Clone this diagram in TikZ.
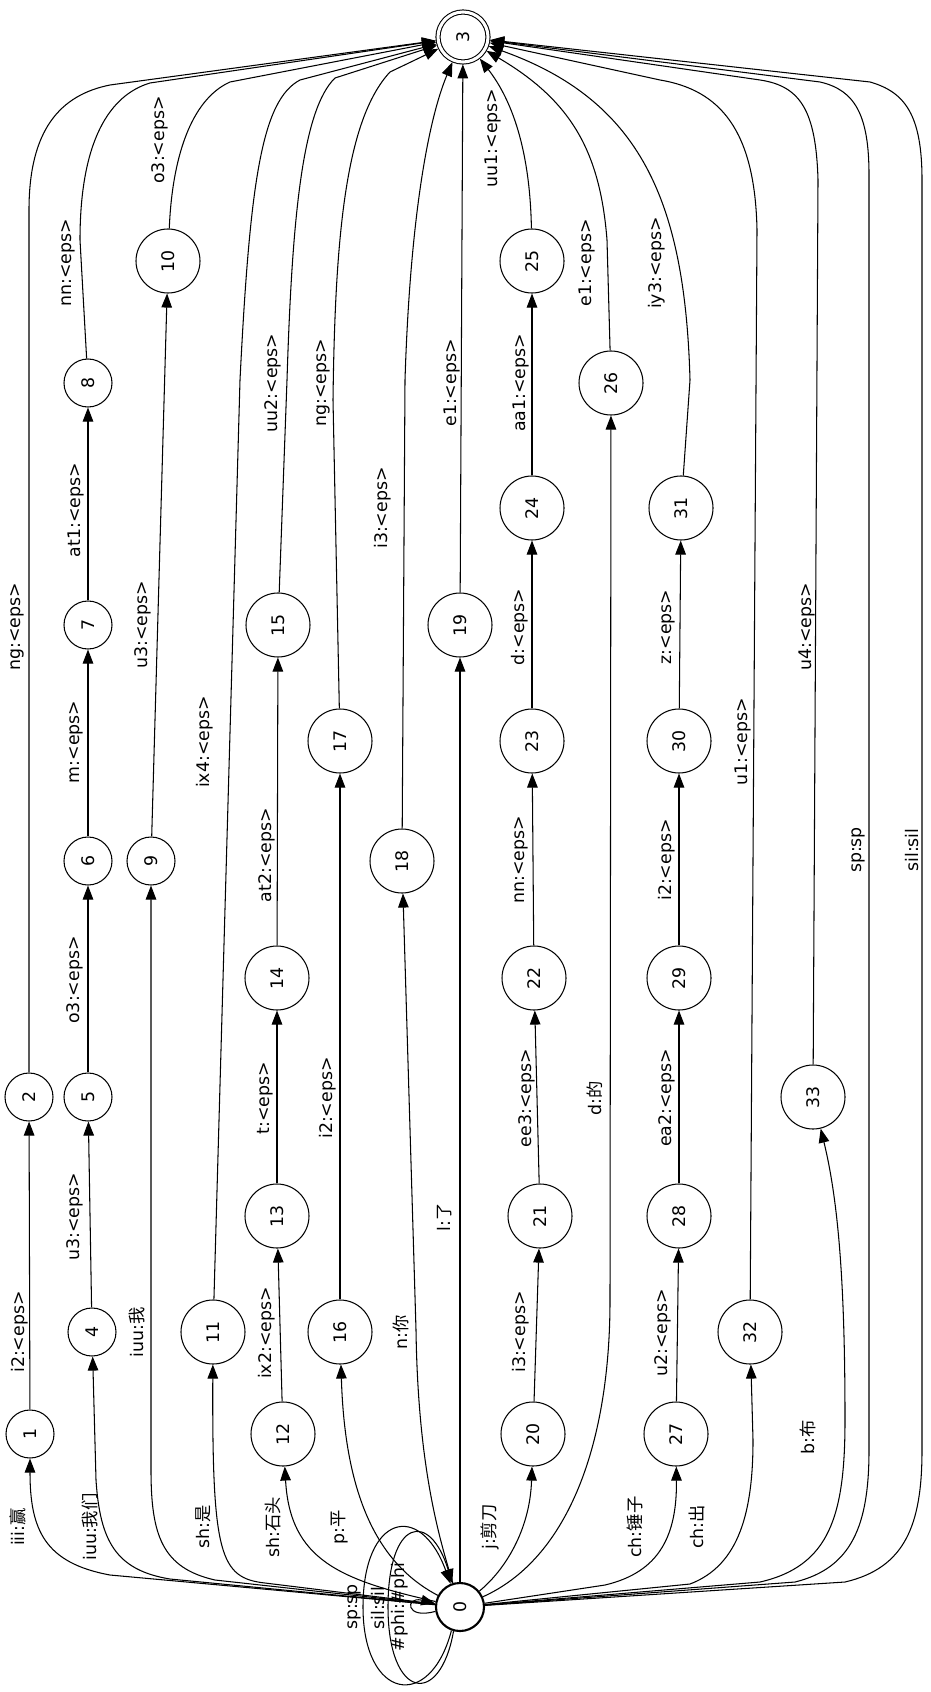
\documentclass[tikz,border=0pt]{standalone}
\usepackage{fontspec}
\setmainfont{DejaVu Sans}
\newfontfamily\cjk{Noto Sans CJK SC}
\usetikzlibrary{arrows.meta}

\newcommand{\up}[1]{\rotatebox{90}{#1}}

\begin{document}
\begin{tikzpicture}[x=0.03cm, y=-0.03cm, >={Triangle[length=12pt,width=9pt]},
    font=\fontsize{14.8}{17}\selectfont, line width=0.9pt,
    state/.style={circle, draw, inner sep=0pt, minimum size=1.44cm},
    wide/.style={circle, draw, inner sep=0pt, minimum size=1.92cm},
    lbl/.style={rotate=90, inner sep=0pt}]
    \useasboundingbox (0,0) rectangle (930,1692);

    % states
    \node[state, line width=1.8pt] (s0) at (460,1607) {\up{0}};
    \node[state, double, double distance=2.6pt, outer sep=2pt, minimum size=1.5cm] (s3) at (463,37) {\up{3}};
    \node[state] (s1) at (30,1434) {\up{1}};
    \node[state] (s2) at (29,1097) {\up{2}};
    \node[state] (s4) at (92,1332) {\up{4}};
    \node[state] (s5) at (88,1097) {\up{5}};
    \node[state] (s6) at (88,861) {\up{6}};
    \node[state] (s7) at (88,625) {\up{7}};
    \node[state] (s8) at (88,383) {\up{8}};
    \node[state] (s9) at (151,861) {\up{9}};
    \node[wide] (s10) at (168,261) {\up{10}};
    \node[wide] (s11) at (213,1332) {\up{11}};
    \node[wide] (s12) at (283,1434) {\up{12}};
    \node[wide] (s13) at (277,1216) {\up{13}};
    \node[wide] (s14) at (277,978) {\up{14}};
    \node[wide] (s15) at (278,625) {\up{15}};
    \node[wide] (s16) at (340,1332) {\up{16}};
    \node[wide] (s17) at (340,741) {\up{17}};
    \node[wide] (s18) at (402,861) {\up{18}};
    \node[wide] (s19) at (460,625) {\up{19}};
    \node[wide] (s20) at (533,1434) {\up{20}};
    \node[wide] (s21) at (540,1216) {\up{21}};
    \node[wide] (s22) at (534,978) {\up{22}};
    \node[wide] (s23) at (532,741) {\up{23}};
    \node[wide] (s24) at (532,508) {\up{24}};
    \node[wide] (s25) at (532,261) {\up{25}};
    \node[wide] (s26) at (611,383) {\up{26}};
    \node[wide] (s27) at (676,1434) {\up{27}};
    \node[wide] (s28) at (679,1216) {\up{28}};
    \node[wide] (s29) at (679,978) {\up{29}};
    \node[wide] (s30) at (679,741) {\up{30}};
    \node[wide] (s31) at (681,508) {\up{31}};
    \node[wide] (s32) at (750,1332) {\up{32}};
    \node[wide] (s33) at (813,1097) {\up{33}};

    % arcs leaving the start state
    \draw[->] (s0) -- (110,1575) .. controls (45,1563) and (30,1530) .. (s1);
    \draw[->] (s0) -- (170,1579) .. controls (115,1570) and (100,1540) .. (96,1480) -- (s4);
    \draw[->] (s0) -- (215,1580) .. controls (162,1568) and (151,1535) .. (151,1470) -- (s9);
    \draw[->] (s0) -- (265,1583) .. controls (220,1578) and (212,1555) .. (s11);
    \draw[->] (s0) .. controls (340,1580) and (290,1560) .. (s12);
    \draw[->] (s0) .. controls (380,1565) and (345,1500) .. (s16);
    \draw[->] (s0) .. controls (440,1540) and (418,1470) .. (416,1330) -- (s18);
    \draw[->] (s0) -- (s19);
    \draw[->] (s0) .. controls (505,1570) and (530,1530) .. (s20);
    \draw[->] (s0) .. controls (565,1560) and (610,1450) .. (610,1300) -- (s26);
    \draw[->] (s0) -- (605,1585) .. controls (660,1572) and (677,1535) .. (s27);
    \draw[->] (s0) -- (690,1584) .. controls (740,1565) and (753,1510) .. (753,1440) -- (s32);
    \draw[->] (s0) -- (760,1582) .. controls (830,1566) and (845,1515) .. (845,1420) .. controls (845,1280) and (838,1200) .. (s33);
    \draw[->] (s0) -- (795,1582) .. controls (852,1568) and (869,1525) .. (869,1450) -- (869,175) .. controls (869,115) and (855,90) .. (820,82) -- (s3);
    \draw[->] (s0) -- (845,1582) .. controls (905,1568) and (922,1525) .. (922,1450) -- (922,180) .. controls (922,115) and (905,92) .. (870,82) -- (s3);

    % self loops on 0
    \draw[->] (s0.250) .. controls (430,1712) and (363,1700) .. (363,1607) .. controls (363,1515) and (420,1500) .. (s0.112);
    \draw[->] (s0.255) .. controls (440,1708) and (388,1700) .. (388,1607) .. controls (388,1518) and (430,1510) .. (s0.108);
    \draw[->] (s0.190) .. controls (405,1620) and (405,1596) .. (s0.172);

    % chains
    \draw[->] (s1) -- (s2);
    \draw[->] (s4) -- (s5);
    \draw[->] (s5) -- (s6);
    \draw[->] (s6) -- (s7);
    \draw[->] (s7) -- (s8);
    \draw[->] (s9) -- (s10);
    \draw[->] (s12) -- (s13);
    \draw[->] (s13) -- (s14);
    \draw[->] (s14) -- (s15);
    \draw[->] (s16) -- (s17);
    \draw[->] (s20) -- (s21);
    \draw[->] (s21) -- (s22);
    \draw[->] (s22) -- (s23);
    \draw[->] (s23) -- (s24);
    \draw[->] (s24) -- (s25);
    \draw[->] (s27) -- (s28);
    \draw[->] (s28) -- (s29);
    \draw[->] (s29) -- (s30);
    \draw[->] (s30) -- (s31);

    % arcs into the final state
    \draw[->] (s2) -- (29,210) .. controls (29,130) and (60,95) .. (110,85) -- (s3);
    \draw[->] (s8) -- (80,240) .. controls (80,140) and (110,95) .. (150,83) -- (s3);
    \draw[->] (s10) .. controls (172,160) and (190,100) .. (230,82) -- (s3);
    \draw[->] (s11) -- (240,380) .. controls (250,180) and (262,100) .. (300,80) -- (s3);
    \draw[->] (s15) -- (287,380) .. controls (292,220) and (302,110) .. (335,78) -- (s3);
    \draw[->] (s17) -- (333,400) .. controls (335,240) and (345,120) .. (390,72) -- (s3);
    \draw[->] (s18) -- (405,380) .. controls (410,220) and (428,120) .. (s3);
    \draw[->] (s19) -- (s3);
    \draw[->] (s25) .. controls (530,150) and (512,100) .. (s3);
    \draw[->] (s26) -- (607,240) .. controls (600,150) and (570,100) .. (s3);
    \draw[->] (s31) -- (690,380) .. controls (685,200) and (640,100) .. (s3);
    \draw[->] (s32) -- (757,230) .. controls (755,130) and (720,90) .. (660,80) -- (s3);
    \draw[->] (s33) -- (818,180) .. controls (816,110) and (800,86) .. (760,80) -- (s3);

    % arc labels
    \node[lbl] (l01) at (18,1527) {iii:{\cjk 赢}};
    \node[lbl] (l12) at (20,1332) {i2:<eps>};
    \node[lbl] (l23) at (17,627) {ng:<eps>};
    \node[lbl] (l04) at (90,1527) {iuu:{\cjk 我们}};
    \node[lbl] (l45) at (75,1217) {u3:<eps>};
    \node[lbl] (l56) at (75,980) {o3:<eps>};
    \node[lbl] (l67) at (76,742) {m:<eps>};
    \node[lbl] (l78) at (76,510) {at1:<eps>};
    \node[lbl] (l83) at (68,263) {nn:<eps>};
    \node[lbl] (l09) at (137,1332) {iuu:{\cjk 我}};
    \node[lbl] (l910) at (143,625) {u3:<eps>};
    \node[lbl] (l103) at (160,140) {o3:<eps>};
    \node[lbl] (l011) at (203,1527) {sh:{\cjk 是}};
    \node[lbl] (l113) at (205,742) {ix4:<eps>};
    \node[lbl] (l012) at (273,1527) {sh:{\cjk 石头}};
    \node[lbl] (l1213) at (267,1333) {ix2:<eps>};
    \node[lbl] (l1314) at (265,1098) {t:<eps>};
    \node[lbl] (l1415) at (267,855) {at2:<eps>};
    \node[lbl] (l153) at (273,383) {uu2:<eps>};
    \node[lbl] (l016) at (340,1527) {p:{\cjk 平}};
    \node[lbl] (l1617) at (328,1098) {i2:<eps>};
    \node[lbl] (l173) at (323,383) {ng:<eps>};
    \node[lbl] (l018) at (401,1332) {n:{\cjk 你}};
    \node[lbl] (l183) at (383,508) {i3:<eps>};
    \node[lbl] (l019) at (445,1217) {l:{\cjk 了}};
    \node[lbl] (l193) at (452,383) {e1:<eps>};
    \node[lbl] (l020) at (490,1527) {j:{\cjk 剪刀}};
    \node[lbl] (l2021) at (521,1332) {i3:<eps>};
    \node[lbl] (l2122) at (527,1098) {ee3:<eps>};
    \node[lbl] (l2223) at (521,860) {nn:<eps>};
    \node[lbl] (l2324) at (520,627) {d:<eps>};
    \node[lbl] (l2425) at (521,383) {aa1:<eps>};
    \node[lbl] (l253) at (493,138) {uu1:<eps>};
    \node[lbl] (l026) at (595,1098) {d:{\cjk 的}};
    \node[lbl] (l263) at (587,263) {e1:<eps>};
    \node[lbl] (l027) at (635,1527) {ch:{\cjk 锤子}};
    \node[lbl] (l2728) at (663,1333) {u2:<eps>};
    \node[lbl] (l2829) at (667,1098) {ea2:<eps>};
    \node[lbl] (l2930) at (667,860) {i2:<eps>};
    \node[lbl] (l3031) at (668,627) {z:<eps>};
    \node[lbl] (l313) at (657,263) {iy3:<eps>};
    \node[lbl] (l032) at (697,1527) {ch:{\cjk 出}};
    \node[lbl] (l323) at (743,742) {u1:<eps>};
    \node[lbl] (l033) at (808,1437) {b:{\cjk 布}};
    \node[lbl] (l333) at (807,627) {u4:<eps>};
    \node[lbl] (l03a) at (858,850) {sp:sp};
    \node[lbl] (l03b) at (912,850) {sil:sil};
    \node[lbl] (l00a) at (354,1607) {sp:sp};
    \node[lbl] (l00b) at (378,1608) {sil:sil};
    \node[lbl] (l00c) at (400,1607) {\#phi:\#phi};
\end{tikzpicture}
\end{document}
